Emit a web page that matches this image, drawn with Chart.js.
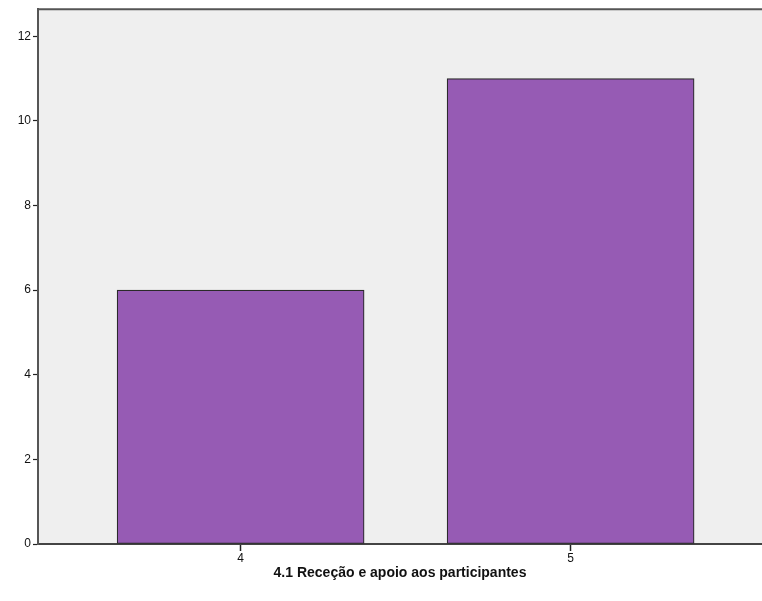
<!DOCTYPE html>
<html>
<head>
<meta charset="utf-8">
<script src="https://cdn.jsdelivr.net/npm/chart.js@4/dist/chart.umd.min.js"></script>
<style>
html,body{margin:0;padding:0;background:#fff;}
#wrap{width:762px;height:601px;position:relative;}
</style>
</head>
<body>
<div id="wrap"><canvas id="c" width="762" height="601"></canvas></div>
<script>
const categories = [4, 5];
const counts = [6, 11];
const yTicks = [0, 2, 4, 6, 8, 10, 12];
const xTitle = "4.1 Receção e apoio aos participantes";

const bgPlugin = {
  id: 'bg',
  beforeDraw(chart) {
    const {ctx, chartArea: a} = chart;
    ctx.save();
    ctx.fillStyle = '#efefef';
    ctx.fillRect(a.left, a.top, a.right - a.left, a.bottom - a.top);
    ctx.strokeStyle = '#555';
    ctx.lineWidth = 2;
    ctx.beginPath();
    ctx.moveTo(a.left, a.top);
    ctx.lineTo(a.right, a.top);
    ctx.stroke();
    ctx.restore();
  }
};

new Chart(document.getElementById('c'), {
  type: 'bar',
  data: {
    datasets: [{
      data: categories.map((c, i) => ({x: c, y: counts[i]})),
      backgroundColor: 'rgb(150,91,180)',
      borderColor: '#2a2a2a',
      borderWidth: 1.2,
      borderSkipped: false,
      barThickness: 247
    }]
  },
  options: {
    responsive: false,
    animation: false,
    events: [],
    layout: {padding: {top: 9, right: 0, left: 0, bottom: 19}},
    plugins: {legend: {display: false}, tooltip: {enabled: false}},
    scales: {
      x: {
        type: 'linear',
        offset: false,
        min: 3.386,
        max: 5.58,
        afterBuildTicks(s) { s.ticks = categories.map(v => ({value: v})); },
        afterFit(s) { s.height = 38; },
        grid: {offset: false, drawOnChartArea: false, drawTicks: true, tickLength: 7, tickColor: '#222', tickWidth: 1.5, color: '#222'},
        border: {display: true, color: '#444', width: 2},
        ticks: {color: '#111', font: {family: 'Liberation Sans, Arial', size: 12}, padding: 0, maxRotation: 0},
        title: {display: true, text: xTitle, color: '#111', font: {family: 'Liberation Sans, Arial', size: 14, weight: 'bold'}, padding: {top: 5, bottom: 0}}
      },
      y: {
        min: 0,
        max: 12.64,
        afterBuildTicks(s) { s.ticks = yTicks.map(v => ({value: v})); },
        afterFit(s) { s.width = 38; },
        grid: {drawOnChartArea: false, drawTicks: true, tickLength: 5, tickColor: '#222', tickWidth: 1.2, color: '#222'},
        border: {display: true, color: '#555', width: 2},
        ticks: {color: '#111', font: {family: 'Liberation Sans, Arial', size: 12}, padding: 2}
      }
    }
  },
  plugins: [bgPlugin]
});
</script>
</body>
</html>
